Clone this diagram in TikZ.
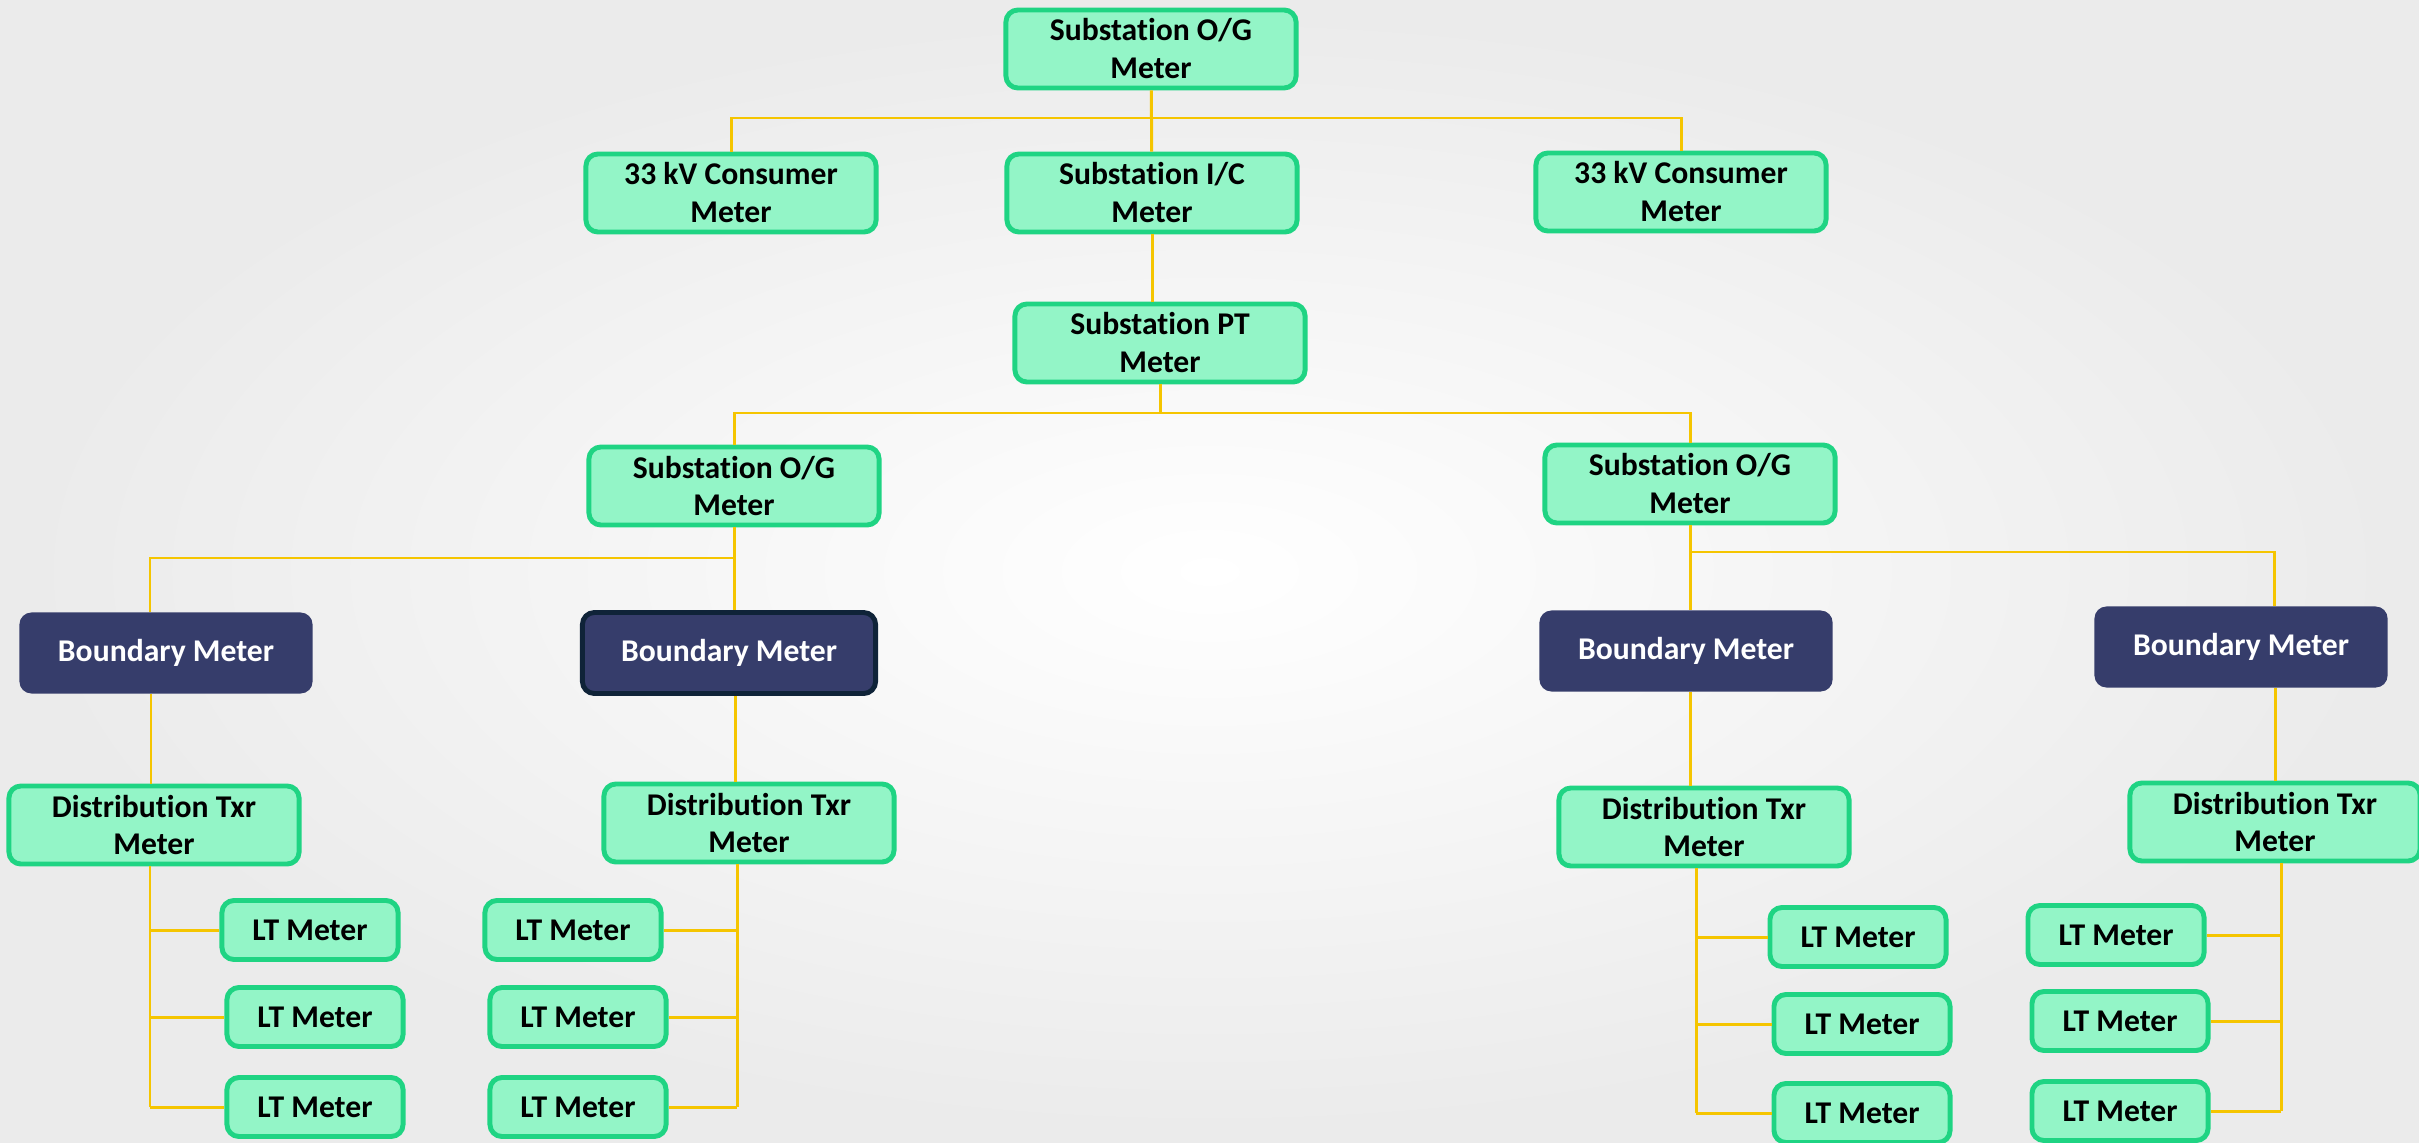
\documentclass[tikz,border=0pt]{standalone}
\usepackage{fontspec}
\setmainfont[Ligatures=NoCommon]{Carlito}

\definecolor{mint}{HTML}{93F5C7}
\definecolor{mintline}{HTML}{1FD483}
\definecolor{navy}{HTML}{363D6B}
\definecolor{navyline}{HTML}{0F2338}
\definecolor{wire}{HTML}{F5C500}

\tikzset{
  meter/.style={draw=mintline, fill=mint, line width=1.4pt, rounded corners=0.12cm,
    minimum width=2.9cm, minimum height=0.78cm, inner sep=0pt, align=center,
    font=\fontsize{9}{10.8}\selectfont\bfseries},
  ltmeter/.style={meter, minimum width=1.76cm, minimum height=0.59cm},
  boundary/.style={fill=navy, rounded corners=0.12cm, text=white,
    minimum width=2.93cm, minimum height=0.81cm, inner sep=0pt,
    font=\fontsize{9}{10.8}\selectfont\bfseries},
  wired/.style={draw=wire, line width=0.85pt}
}

\begin{document}
\begin{tikzpicture}[x=0.01cm, y=-0.01cm]
            % Fondo
            \useasboundingbox (0,0) rectangle (2419,1143);
            \shade[inner color=white, outer color=black!8] (0,0) rectangle (2419,1143);

            % Subestacion
            \node[meter] (og0) at (1151,49) {Substation O/G\\Meter};
            \node[meter] (c1) at (731,193) {33 kV Consumer\\Meter};
            \node[meter] (ic) at (1152,193) {Substation I/C\\Meter};
            \node[meter] (c2) at (1681,192) {33 kV Consumer\\Meter};
            \node[meter] (pt) at (1160,343) {Substation PT\\Meter};
            \node[meter] (og1) at (734,486) {Substation O/G\\Meter};
            \node[meter] (og2) at (1690,484) {Substation O/G\\Meter};

            % Boundary meters
            \node[boundary] (b1) at (166,653) {Boundary Meter};
            \node[boundary, draw=navyline, line width=1.4pt] (b2) at (729,653) {Boundary Meter};
            \node[boundary] (b3) at (1686,651) {Boundary Meter};
            \node[boundary] (b4) at (2241,647) {Boundary Meter};

            % Distribution transformers
            \node[meter] (dt1) at (154,825) {Distribution Txr\\Meter};
            \node[meter] (dt2) at (749,823) {Distribution Txr\\Meter};
            \node[meter] (dt3) at (1704,827) {Distribution Txr\\Meter};
            \node[meter] (dt4) at (2275,822) {Distribution Txr\\Meter};

            % LT meters
            \node[ltmeter] (l11) at (310,930) {LT Meter};
            \node[ltmeter] (l12) at (315,1017) {LT Meter};
            \node[ltmeter] (l13) at (315,1107) {LT Meter};
            \node[ltmeter] (l21) at (573,930) {LT Meter};
            \node[ltmeter] (l22) at (578,1017) {LT Meter};
            \node[ltmeter] (l23) at (578,1107) {LT Meter};
            \node[ltmeter] (l31) at (1858,937) {LT Meter};
            \node[ltmeter] (l32) at (1862,1024) {LT Meter};
            \node[ltmeter] (l33) at (1862,1113) {LT Meter};
            \node[ltmeter] (l41) at (2116,935) {LT Meter};
            \node[ltmeter] (l42) at (2120,1021) {LT Meter};
            \node[ltmeter] (l43) at (2120,1111) {LT Meter};

            % Puntos de union
            \coordinate (t1) at (1151,118);
            \coordinate (t2) at (1155,413);
            \coordinate (t3) at (150,558);
            \coordinate (t4) at (2274,552);
            \coordinate (v1) at (151,0);
            \coordinate (v2) at (735,0);
            \coordinate (v3) at (1690,0);
            \coordinate (v4) at (2275,0);
            \coordinate (s1) at (150,0);
            \coordinate (s2) at (737,0);
            \coordinate (s3) at (1696,0);
            \coordinate (s4) at (2281,0);

            % Conexiones arriba
            \draw[wired] (og0) -- (ic);
            \draw[wired] (c1.north) |- (t1) -| (c2.north);
            \draw[wired] (ic.south) -- (ic.south |- pt.north);
            \draw[wired] (pt.south) -- (pt.south |- t2);
            \draw[wired] (og1.north) |- (t2) -| (og2.north);

            % Conexiones a boundary meters
            \draw[wired] (og1.south) -- (og1.south |- b2.north);
            \draw[wired] (og1.south |- t3) -- (t3) -- (t3 |- b1.north);
            \draw[wired] (og2.south) -- (og2.south |- b3.north);
            \draw[wired] (og2.south |- t4) -- (t4) -- (t4 |- b4.north);

            % Boundary a transformador
            \foreach \i in {1,2,3,4}
              \draw[wired] (v\i |- b\i.south) -- (v\i |- dt\i.north);

            % Transformador a LT meters
            \draw[wired] (s1 |- dt1.south) -- (s1 |- l13.west);
            \draw[wired] (s2 |- dt2.south) -- (s2 |- l23.east);
            \draw[wired] (s3 |- dt3.south) -- (s3 |- l33.west);
            \draw[wired] (s4 |- dt4.south) -- (s4 |- l43.east);
            \foreach \i in {1,2,3} {
              \draw[wired] (s1 |- l1\i.west) -- (l1\i.west);
              \draw[wired] (s2 |- l2\i.east) -- (l2\i.east);
              \draw[wired] (s3 |- l3\i.west) -- (l3\i.west);
              \draw[wired] (s4 |- l4\i.east) -- (l4\i.east);
            }
        \end{tikzpicture}
\end{document}
